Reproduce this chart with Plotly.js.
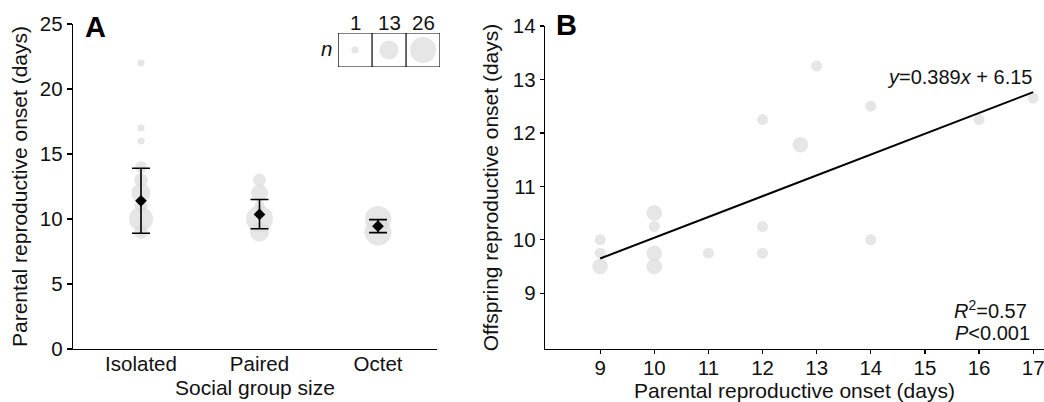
<!DOCTYPE html>
<html>
<head>
<meta charset="utf-8">
<script src="https://cdn.plot.ly/plotly-3.0.1.min.js"></script>
<style>html,body{margin:0;padding:0;background:#fff;}#chart{width:1044px;height:402px;}</style>
</head>
<body>
<div id="chart"></div>
<script>
// ---------- Panel A data ----------
const categories = ['Isolated', 'Paired', 'Octet'];
const isolatedOnset = [22, 17, 16, 14, 13, 12, 11, 10, 9];
const isolatedN     = [1, 1, 1, 4, 6, 13, 5, 22, 6];
const pairedOnset   = [13, 12, 11, 10, 9];
const pairedN       = [5, 10, 3, 28, 13];
const octetOnset    = [10, 9];
const octetN        = [26, 28];
const groupMeans    = [11.4, 10.35, 9.45];
const errUpper      = [13.9, 11.5, 9.95];
const errLower      = [8.9, 9.25, 8.95];
const legendN       = [1, 13, 26];
const legendLabels  = ['1', '13', '26'];

// ---------- Panel B data ----------
const parentOnset    = [9, 9, 9, 10, 10, 10, 10, 11, 12, 12, 12, 12.7, 13, 14, 14, 16, 17];
const offspringOnset = [10, 9.75, 9.5, 10.5, 10.25, 9.75, 9.5, 9.75, 12.25, 10.25, 9.75, 11.78, 13.25, 12.5, 10, 12.25, 12.65];
const pairCount      = [1, 1, 2, 2, 1, 2, 2, 1, 1, 1, 1, 2, 1, 1, 1, 1, 1];
const fitSlope = 0.389;
const fitIntercept = 6.15;
const fitXRange = [9, 17];
const xTicksB = [9, 10, 11, 12, 13, 14, 15, 16, 17];
const yTicksB = [9, 10, 11, 12, 13, 14];

// ---------- styling ----------
const FONT = 'Arial, "Liberation Sans", sans-serif';
const GRAY = '#dcdcdc';
const sizeA = n => 2.5 + 4.6 * Math.sqrt(n);
const sizeB = n => 11 * Math.sqrt(n);

const groups = [
  {onset: isolatedOnset, n: isolatedN},
  {onset: pairedOnset, n: pairedN},
  {onset: octetOnset, n: octetN}
];

const traces = [];
groups.forEach((g, i) => {
  traces.push({
    type: 'scatter', mode: 'markers', xaxis: 'x', yaxis: 'y',
    x: g.onset.map(() => i), y: g.onset,
    marker: {color: GRAY, size: g.n.map(sizeA), sizemode: 'diameter', line: {width: 0}},
    hoverinfo: 'skip'
  });
});
traces.push({
  type: 'scatter', mode: 'markers', xaxis: 'x', yaxis: 'y',
  x: categories.map((c, i) => i), y: groupMeans,
  marker: {symbol: 'diamond', color: '#000', size: 9},
  error_y: {
    type: 'data', symmetric: false,
    array: errUpper.map((u, i) => u - groupMeans[i]),
    arrayminus: errLower.map((l, i) => groupMeans[i] - l),
    color: '#000', thickness: 1.6, width: 9
  }
});
// size legend inset
traces.push({
  type: 'scatter', mode: 'markers', xaxis: 'x3', yaxis: 'y3',
  x: legendN.map((n, i) => i + 0.5), y: legendN.map(() => 0.5),
  marker: {color: GRAY, size: legendN.map(sizeA), sizemode: 'diameter', line: {width: 0}},
  hoverinfo: 'skip'
});
// Panel B
traces.push({
  type: 'scatter', mode: 'markers', xaxis: 'x2', yaxis: 'y2',
  x: parentOnset, y: offspringOnset,
  marker: {color: GRAY, size: pairCount.map(sizeB), sizemode: 'diameter', line: {width: 0}}
});
traces.push({
  type: 'scatter', mode: 'lines', xaxis: 'x2', yaxis: 'y2',
  x: fitXRange, y: fitXRange.map(x => fitSlope * x + fitIntercept),
  line: {color: '#000', width: 2}
});

const tickFont = {family: FONT, size: 20.5, color: '#111'};
const titleFont = {family: FONT, size: 21, color: '#111'};
const axisBase = {
  showline: true, linecolor: '#000', linewidth: 1.3, showgrid: false, zeroline: false,
  tickfont: tickFont, tickcolor: '#000', tickwidth: 1.3, fixedrange: true,
  ticklabeloverflow: 'allow'
};

const layout = {
  width: 1044, height: 402,
  margin: {l: 0, r: 0, t: 0, b: 0},
  paper_bgcolor: '#fff', plot_bgcolor: 'rgba(0,0,0,0)',
  showlegend: false,
  font: {family: FONT, color: '#111'},
  xaxis: Object.assign({}, axisBase, {
    domain: [0.0699, 0.4186], range: [-0.574, 2.498], anchor: 'y',
    tickvals: [0, 1, 2], ticktext: categories, ticks: '', ticklabelstandoff: -4,
    title: {text: 'Social group size', font: titleFont, standoff: 6}
  }),
  yaxis: Object.assign({}, axisBase, {
    domain: [0.1318, 0.9403], range: [0, 25], anchor: 'x',
    tickvals: [0, 5, 10, 15, 20, 25], ticks: 'outside', ticklen: 5,
    title: {text: 'Parental reproductive onset (days)', font: titleFont, standoff: 6}
  }),
  xaxis2: Object.assign({}, axisBase, {
    domain: [0.522, 1], range: [7.98, 17.2], anchor: 'y2',
    tickvals: xTicksB, ticks: 'outside', ticklen: 4, ticklabelstandoff: -4,
    title: {text: 'Parental reproductive onset (days)', font: titleFont, standoff: 6}
  }),
  yaxis2: Object.assign({}, axisBase, {
    domain: [0.1318, 0.9353], range: [7.958, 14], anchor: 'x2',
    tickvals: yTicksB, ticks: 'outside', ticklen: 4,
    title: {text: 'Offspring reproductive onset (days)', font: titleFont, standoff: 8}
  }),
  xaxis3: {domain: [0.3238, 0.4215], range: [0, 3], anchor: 'y3', visible: false, fixedrange: true},
  yaxis3: {domain: [0.8333, 0.9179], range: [0, 1], anchor: 'x3', visible: false, fixedrange: true},
  shapes: [
    {type: 'rect', xref: 'x3', yref: 'y3', x0: 0, x1: 3, y0: 0, y1: 1, line: {color: '#000', width: 1.2}},
    {type: 'line', xref: 'x3', yref: 'y3', x0: 1, x1: 1, y0: 0, y1: 1, line: {color: '#000', width: 1.2}},
    {type: 'line', xref: 'x3', yref: 'y3', x0: 2, x1: 2, y0: 0, y1: 1, line: {color: '#000', width: 1.2}}
  ],
  annotations: [
    {text: '<b>A</b>', xref: 'paper', yref: 'paper', x: 0.091, y: 0.933, showarrow: false,
     font: {family: FONT, size: 29, color: '#000'}, xanchor: 'center', yanchor: 'middle'},
    {text: '<b>B</b>', xref: 'paper', yref: 'paper', x: 0.543, y: 0.938, showarrow: false,
     font: {family: FONT, size: 29, color: '#000'}, xanchor: 'center', yanchor: 'middle'},
    {text: '<i>n</i>', xref: 'x3', yref: 'y3', x: 0, y: 0.55, xshift: -12, showarrow: false,
     font: {family: FONT, size: 20.5, color: '#111'}, xanchor: 'center', yanchor: 'middle'},
    ...legendLabels.map((t, i) => ({
      text: t, xref: 'x3', yref: 'y3', x: i + 0.5, y: 1, showarrow: false,
      font: {family: FONT, size: 20.5, color: '#111'}, xanchor: 'center', yanchor: 'bottom', yshift: -3
    })),
    {text: '<i>y</i>=0.389<i>x</i> + 6.15', xref: 'x2', yref: 'y2', x: 17.02, y: 13.05, showarrow: false,
     font: {family: FONT, size: 20, color: '#111'}, xanchor: 'right', yanchor: 'middle'},
    {text: '<i>R</i><sup>2</sup>=0.57', xref: 'x2', yref: 'y2', x: 16.92, y: 8.69, showarrow: false,
     font: {family: FONT, size: 20, color: '#111'}, xanchor: 'right', yanchor: 'middle'},
    {text: '<i>P</i><0.001', xref: 'x2', yref: 'y2', x: 16.97, y: 8.26, showarrow: false,
     font: {family: FONT, size: 20, color: '#111'}, xanchor: 'right', yanchor: 'middle'}
  ]
};

Plotly.newPlot('chart', traces, layout, {staticPlot: true, displayModeBar: false});
</script>
</body>
</html>
